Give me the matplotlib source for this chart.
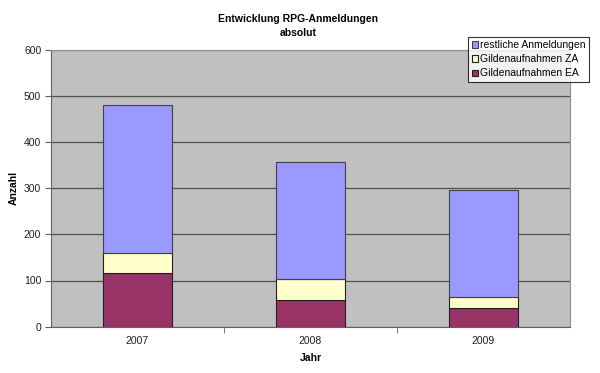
import matplotlib
matplotlib.use("Agg")
import matplotlib.pyplot as plt
import numpy as np

plt.rcParams['font.family'] = ['Liberation Sans', 'DejaVu Sans']

# data
jahre = ['2007', '2008', '2009']
gilden_ea = [117, 58, 41]
gilden_za = [43, 45, 24]
restliche = [320, 253, 231]

fig = plt.figure(figsize=(6.0, 3.73), dpi=100)
# plot area: x 51..570, y 49.5..326.7 px
ax = fig.add_axes([51 / 600, 1 - 326.7 / 373, (570 - 51) / 600, (326.7 - 49.5) / 373])
ax.set_facecolor('#C0C0C0')

x = np.arange(len(jahre))
w = 0.4
ea = np.array(gilden_ea)
za = np.array(gilden_za)
b1 = ax.bar(x, ea, w, color='#993366', edgecolor='#202020', linewidth=0.8, zorder=3,
            label='Gildenaufnahmen EA')
b2 = ax.bar(x, za, w, bottom=ea, color='#FFFFCC', edgecolor='#202020', linewidth=0.8,
            zorder=3, label='Gildenaufnahmen ZA')
b3 = ax.bar(x, restliche, w, bottom=ea + za, color='#9999FF', edgecolor='#404040',
            linewidth=0.8, zorder=3, label='restliche Anmeldungen')

ax.set_xlim(-0.5, 2.5)
ax.set_ylim(0, 600)
ax.set_yticks(range(0, 601, 100))
ax.set_xticks(x)
ax.set_xticklabels(jahre)
ax.set_xticks([0.5, 1.5], minor=True)
ax.tick_params(axis='x', which='major', length=0, pad=7)
ax.tick_params(axis='x', which='minor', length=4, direction='out', color='#606060')
ax.tick_params(axis='y', length=4, direction='out', color='#606060', pad=3)
ax.tick_params(labelsize=7.5, labelcolor='#202020')
ax.yaxis.grid(True, color='#505050', linewidth=0.9, zorder=0)
ax.set_axisbelow(True)
for s in ['top', 'right']:
    ax.spines[s].set_color('#909090')
ax.spines['left'].set_color('#606060')
ax.spines['left'].set_linestyle((0, (1, 1)))
ax.spines['bottom'].set_color('#606060')

ax.set_xlabel('Jahr', fontsize=7.5, fontweight='bold', labelpad=5)
ax.set_ylabel('Anzahl', fontsize=7.5, fontweight='bold', labelpad=4)

fig.text(0.497, 1 - 25.8 / 373, 'Entwicklung RPG-Anmeldungen\nabsolut', ha='center', va='center',
         fontsize=7.5, fontweight='bold', linespacing=1.45)

leg = fig.legend(handles=[b3, b2, b1], labels=['restliche Anmeldungen', 'Gildenaufnahmen ZA',
                 'Gildenaufnahmen EA'], loc='upper right', bbox_to_anchor=(589 / 600, 1 - 36.5 / 373),
                 fontsize=7.5, frameon=True, fancybox=False, handlelength=0.55, handleheight=0.55,
                 handletextpad=0.2, borderpad=0.35, labelspacing=0.4, borderaxespad=0)
leg.get_frame().set_edgecolor('black')
leg.get_frame().set_linewidth(0.8)

fig.savefig('out.png', dpi=100)
